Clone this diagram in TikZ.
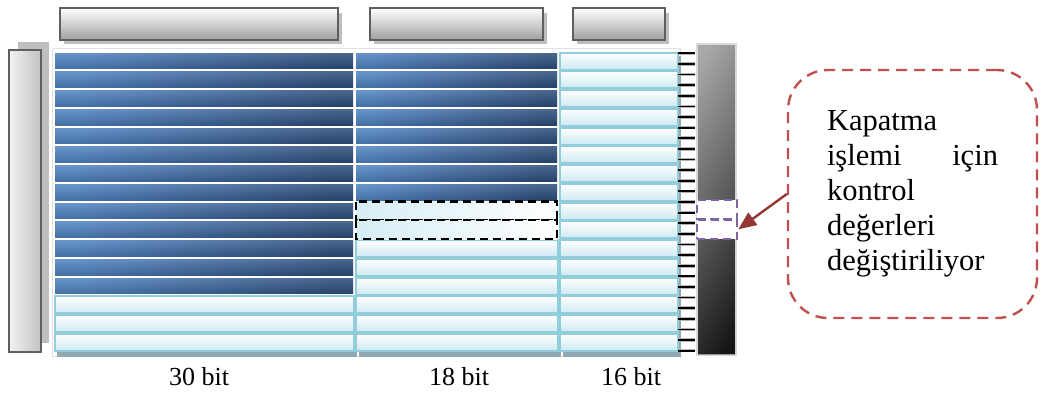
\documentclass[tikz,border=0pt]{standalone}
\usepackage{fontspec}
\setmainfont{Liberation Serif}
\usetikzlibrary{arrows.meta}

\definecolor{barline}{HTML}{5F5F5F}
\definecolor{barshadow}{HTML}{BFBFBF}
\definecolor{barlow}{HTML}{A0A0A0}
\definecolor{blueA}{HTML}{5083C2}
\definecolor{blueB}{HTML}{2D4E7C}
\definecolor{cyanline}{HTML}{92CDDC}
\definecolor{cyanlow}{HTML}{CDE9F1}
\definecolor{cyanshadow}{HTML}{8EA9B1}
\definecolor{markfill}{HTML}{D6EEF4}
\definecolor{notered}{HTML}{C0504D}
\definecolor{arrowred}{HTML}{943634}
\definecolor{markpurple}{HTML}{8064A2}
\definecolor{railA}{HTML}{858585}
\definecolor{railB}{HTML}{1E1E1E}

\tikzset{
  topbar/.style={draw=barline, line width=2.8pt, top color=white, bottom color=barlow},
  sidebar/.style={draw=barline, line width=2.6pt, left color=black!5, right color=black!24},
  bluecell/.style={left color=blueA, right color=blueB, shading angle=80},
  blueshade/.style={top color=white, bottom color=black, fill opacity=0.14},
  lightcell/.style={draw=cyanline, line width=2pt, top color=white, bottom color=cyanlow},
  markcell/.style={draw=black, line width=2.2pt, dash pattern=on 8pt off 5pt, left color=markfill, right color=white},
  markbox/.style={draw=markpurple, fill=white, line width=2.6pt, dash pattern=on 8pt off 5pt,
                  minimum width=40pt, minimum height=19.5pt, inner sep=0pt},
  callout/.style={draw=notered, line width=2.4pt, dash pattern=on 11pt off 7pt, rounded corners=40pt,
                  minimum width=249pt, minimum height=248pt, text width=171pt, align=left, inner sep=0pt,
                  font=\fontsize{30.5}{35}\selectfont},
  bitlabel/.style={font=\fontsize{26}{30}\selectfont, anchor=base, inner sep=0pt},
  pointer/.style={draw=arrowred, line width=2.4pt, -{Triangle[length=18pt,width=15pt]}},
}

\begin{document}
\begin{tikzpicture}[x=1pt,y=-1pt]
\useasboundingbox (0,0) rectangle (1045,394);

% header bars with their shadows
\foreach \xa/\xb in {60/338, 370/543, 573/665}{
  \fill[barshadow] (\xa+4,13) rectangle (\xb+4,44);
  \path[topbar] (\xa,8) rectangle (\xb,40);
}

% side bar on the left
\fill[barshadow] (18,42) rectangle (49,343);
\path[sidebar] (9,50) rectangle (41,352);

% register background
\path[fill=white, draw=black!12, line width=1pt] (52,48) rectangle (680,356);

% shadows under the light groups
\fill[cyanshadow] (57,300) rectangle (357,357);
\fill[cyanshadow] (359,242) rectangle (561,357);
\fill[cyanshadow] (563,56) rectangle (681,357);

% 30-bit column: 13 used rows
\foreach \i in {0,...,12}{
  \path[bluecell] (55,51.5+\i*18.75+1.5) rectangle (353,51.5+\i*18.75+17.25);
  \path[blueshade] (55,51.5+\i*18.75+1.5) rectangle (353,51.5+\i*18.75+17.25);
}
% 18-bit column: 8 used rows
\foreach \i in {0,...,7}{
  \path[bluecell] (356,51.5+\i*18.75+1.5) rectangle (557,51.5+\i*18.75+17.25);
  \path[blueshade] (356,51.5+\i*18.75+1.5) rectangle (557,51.5+\i*18.75+17.25);
}

% free rows
\foreach \i in {13,14,15}{
  \path[lightcell] (54.5,51.5+\i*18.75+1) rectangle (353.5,51.5+\i*18.75+18);
}
\foreach \i in {10,...,15}{
  \path[lightcell] (356,51.5+\i*18.75+1) rectangle (557.5,51.5+\i*18.75+18);
}
\foreach \i in {0,...,15}{
  \path[lightcell] (560,51.5+\i*18.75+1) rectangle (677.5,51.5+\i*18.75+18);
}

% rows being changed
\foreach \i in {8,9}{
  \path[markcell] (356,51.5+\i*18.75) rectangle (557,51.5+\i*18.75+18.75);
}

% connector ticks
\foreach \k in {0,...,28}{
  \draw[black!30, line width=3.6pt] (678,53.3+\k*10.62) -- (695,53.3+\k*10.62);
  \draw[black, line width=1.8pt] (678,53.3+\k*10.62) -- (695,53.3+\k*10.62);
}

% control rail
\path[draw=black!15, line width=2pt, left color=railA, right color=railB, shading angle=75]
  (697,44) rectangle (736,355);
\path[top color=white, bottom color=black, fill opacity=0.3] (698,45) rectangle (735,354);

% control values on the rail
\node[markbox] (mk1) at (717,209.8) {};
\node[markbox] (mk2) at (717,229.3) {};

% note
\node[callout] (note) at (912.5,194) {Kapatma\\
işlemi\hfill için\\
kontrol\\
değerleri\\
değiştiriliyor};
\draw[pointer] (note.west) -- (mk2.east);

% column widths
\node[bitlabel] (l30) at (199,385) {30 bit};
\node[bitlabel] (l18) at (459,385) {18 bit};
\node[bitlabel] (l16) at (631,385) {16 bit};
\end{tikzpicture}
\end{document}
